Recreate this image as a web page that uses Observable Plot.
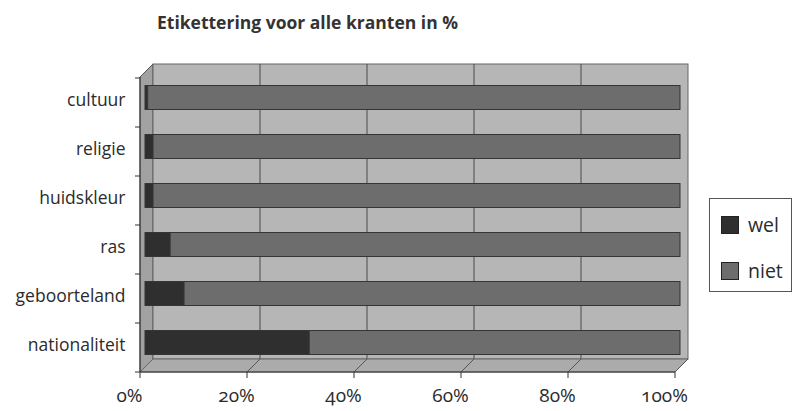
<!DOCTYPE html>
<html><head><meta charset="utf-8">
<script src="https://cdn.jsdelivr.net/npm/d3@7"></script>
<script src="https://cdn.jsdelivr.net/npm/@observablehq/plot@0.6"></script>
<style>
body{margin:0;background:#fff;font-family:"Open Sans",sans-serif;}
#wrap{position:relative;width:797px;height:411px;overflow:hidden;}
#chart{position:absolute;left:0;top:0;}
#title{position:absolute;left:157px;top:10px;font-weight:bold;font-size:17.5px;color:#333;white-space:nowrap;}
#legend{position:absolute;left:709px;top:198px;width:83px;height:94px;border:1px solid #555;box-sizing:border-box;background:#fff;}
.item{position:absolute;left:11px;font-size:19.5px;color:#2b2b2b;line-height:22px;}
.sw{display:inline-block;width:18px;height:18px;border:1px solid #222;box-sizing:border-box;vertical-align:middle;margin-right:9px;position:relative;top:-2px;}
</style></head>
<body>
<div id="wrap">
  <div id="chart"></div>
  <div id="title">Etikettering voor alle kranten in %</div>
  <div id="legend"></div>
</div>
<script>
const categories = ["cultuur", "religie", "huidskleur", "ras", "geboorteland", "nationaliteit"];
const series = ["wel", "niet"];
const welValues = [0.5, 1.5, 1.5, 4.7, 7.3, 30.7];
const nietValues = [99.5, 98.5, 98.5, 95.3, 92.7, 69.3];
const xTicks = [0, 20, 40, 60, 80, 100];
const colors = ["#2f2f2f", "#6d6d6d"];

const rows = [];
categories.forEach((c, i) => {
  rows.push({cat: c, series: "wel", value: welValues[i]});
  rows.push({cat: c, series: "niet", value: nietValues[i]});
});

const D = 13; // depth offset of the back wall

function walls(index, scales, values, dimensions) {
  const {width, height, marginLeft, marginRight, marginTop, marginBottom} = dimensions;
  const x = scales.x;
  const L = marginLeft, R = width - marginRight, T = marginTop, B = height - marginBottom;
  const g = d3.create("svg:g");
  g.append("path").attr("d", `M${L},${T}L${L + D},${T - D}L${L + D},${B - D}L${L},${B}Z`)
    .attr("fill", "#a2a2a2").attr("stroke", "#555");
  g.append("rect").attr("x", L + D).attr("y", T - D).attr("width", R - L).attr("height", B - T)
    .attr("fill", "#b6b6b6").attr("stroke", "#666");
  xTicks.slice(1, -1).forEach(v => {
    g.append("line").attr("x1", x(v) + D).attr("x2", x(v) + D).attr("y1", T - D).attr("y2", B - D)
      .attr("stroke", "#4a4a4a");
  });
  g.append("path").attr("d", `M${L},${B}L${R},${B}L${R + D},${B - D}L${L + D},${B - D}Z`)
    .attr("fill", "#ababab").attr("stroke", "#666");
  xTicks.slice(1).forEach(v => {
    g.append("line").attr("x1", x(v)).attr("x2", x(v) + D).attr("y1", B).attr("y2", B - D)
      .attr("stroke", "#555");
  });
  return g.node();
}

function axes(index, scales, values, dimensions) {
  const {width, height, marginLeft, marginRight, marginTop, marginBottom} = dimensions;
  const x = scales.x, y = scales.y;
  const L = marginLeft, R = width - marginRight, T = marginTop, B = height - marginBottom;
  const g = d3.create("svg:g").attr("stroke", "#333");
  g.append("line").attr("x1", L).attr("x2", L).attr("y1", T).attr("y2", B);
  g.append("line").attr("x1", L).attr("x2", R).attr("y1", B).attr("y2", B);
  categories.forEach(c => {
    g.append("line").attr("x1", L - 5).attr("x2", L).attr("y1", y(c)).attr("y2", y(c));
  });
  g.append("line").attr("x1", L - 5).attr("x2", L).attr("y1", B).attr("y2", B);
  xTicks.forEach(v => {
    g.append("line").attr("x1", x(v)).attr("x2", x(v)).attr("y1", B).attr("y2", B + 6);
  });
  return g.node();
}

const chart = Plot.plot({
  width: 797,
  height: 411,
  marginLeft: 140,
  marginRight: 122,
  marginTop: 77,
  marginBottom: 39,
  style: {fontFamily: "Open Sans", fontSize: "17px", color: "#2b2b2b", background: "transparent", overflow: "visible"},
  x: {domain: [0, 100], axis: null},
  y: {domain: categories, padding: 0, axis: null},
  color: {domain: series, range: colors},
  marks: [
    walls,
    Plot.barX(rows, Plot.stackX({
      y: "cat", x: "value", fill: "series", order: series,
      insetTop: 12.5, insetBottom: 12.5, dx: 5, dy: -5,
      stroke: "#353535", strokeWidth: 1
    })),
    axes,
    Plot.text(categories, {y: d => d, text: d => d, frameAnchor: "left", textAnchor: "end", dx: -15, dy: -3, fontSize: 17.5, fill: "#2b2b2b"}),
    Plot.text(xTicks, {x: d => d, text: d => d + "%", frameAnchor: "bottom", dy: 29, dx: -11, fontSize: 19, fill: "#2b2b2b"})
  ]
});
chart.style.fontVariantNumeric = "oldstyle-nums";
document.getElementById("chart").append(chart);

const legend = document.getElementById("legend");
series.forEach((s, i) => {
  const it = document.createElement("div");
  it.className = "item";
  it.style.top = (15 + i * 46) + "px";
  it.innerHTML = `<span class="sw" style="background:${colors[i]}"></span>${s}`;
  legend.append(it);
});
</script>
</body></html>
